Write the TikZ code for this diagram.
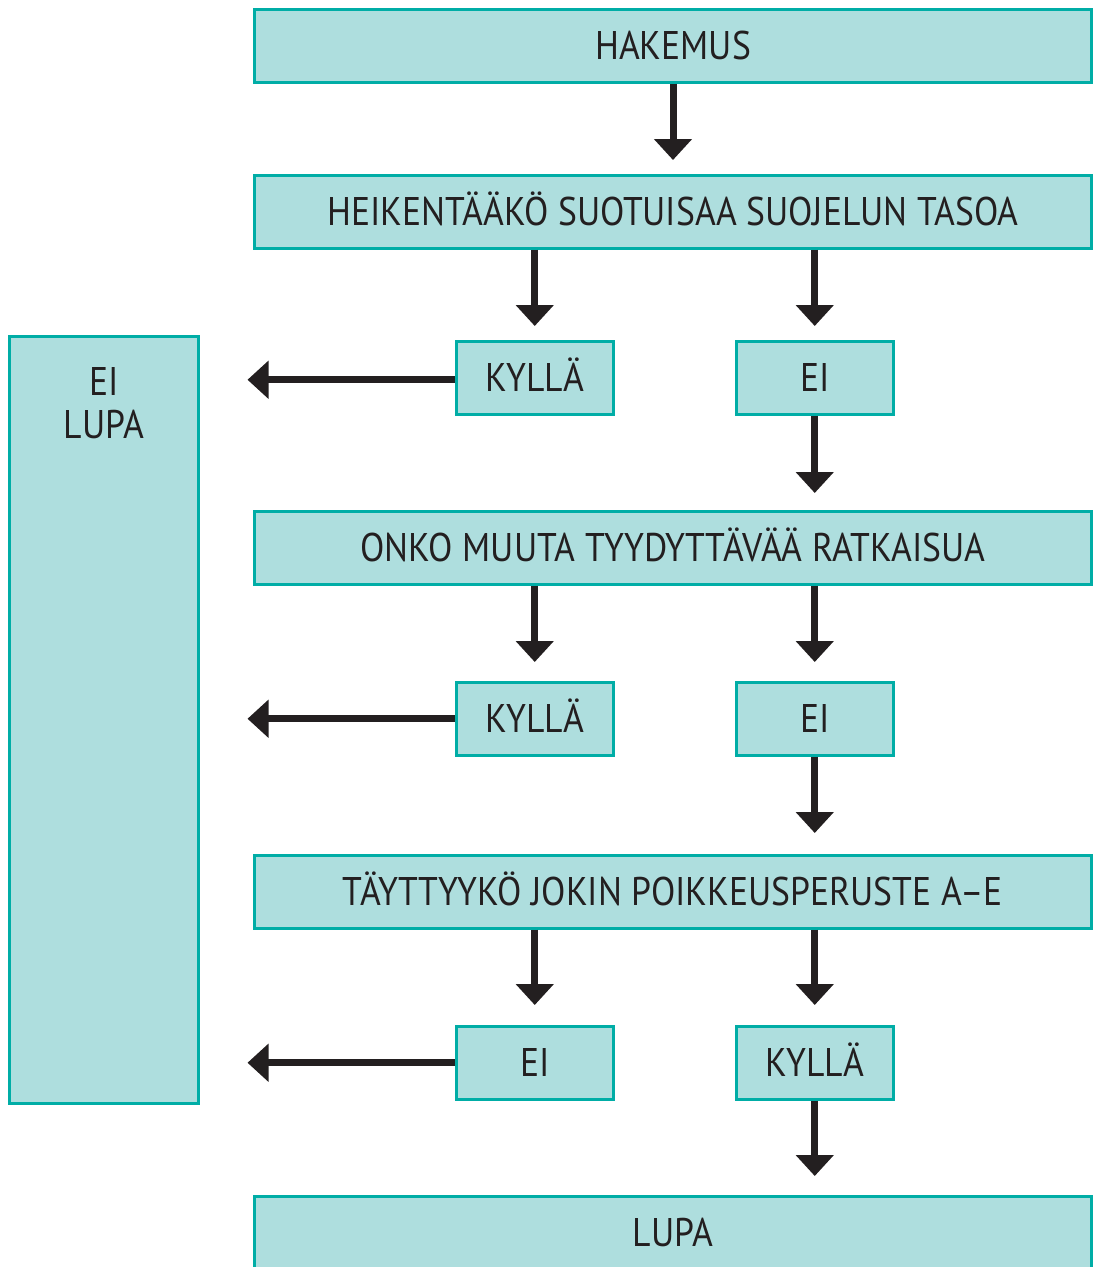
\documentclass[tikz,border=0pt]{standalone}
\usepackage{fontspec}
\setmainfont{PT Sans}[FakeStretch=0.89]
\usetikzlibrary{arrows.meta,calc}
\definecolor{boxfill}{HTML}{AEDEDE}
\definecolor{boxline}{HTML}{00ADA6}
\definecolor{ink}{HTML}{231F20}
\tikzset{
  box/.style={draw=boxline, fill=boxfill, line width=3pt, inner sep=0pt,
    text=ink, font=\fontsize{40}{44}\selectfont, text height=28pt, text depth=0pt},
  wide/.style={box, minimum width=837pt, minimum height=72.5pt},
  small/.style={box, minimum width=156.5pt, minimum height=72.5pt},
  arr/.style={draw=ink, line width=7pt, -{Triangle[width=37pt,length=21pt]}}
}
\begin{document}
\begin{tikzpicture}[x=1pt,y=-1pt]
\useasboundingbox (0,0) rectangle (1093,1267);
\node[wide] (hak) at (673,45.75) {HAKEMUS};
\node[wide] (hei) at (673,211.75) {HEIKENTÄÄKÖ SUOTUISAA SUOJELUN TASOA};
\node[small] (k1) at (534.75,377.75) {KYLLÄ};
\node[small] (e1) at (814.75,377.75) {EI};
\node[wide] (onk) at (673,547.75) {ONKO MUUTA TYYDYTTÄVÄÄ RATKAISUA};
\node[small] (k2) at (534.75,718.75) {KYLLÄ};
\node[small] (e2) at (814.75,718.75) {EI};
\node[wide] (tay) at (673,891.75) {TÄYTTYYKÖ JOKIN POIKKEUSPERUSTE A–E};
\node[small] (e3) at (534.75,1062.75) {EI};
\node[small] (k3) at (814.75,1062.75) {KYLLÄ};
\node[wide] (lupa) at (673,1232.75) {LUPA};
\node[box, minimum width=188.5pt, minimum height=766.5pt] (eil) at (103.75,719.75) {};
\node[text=ink, font=\fontsize{40}{43}\selectfont, align=center, inner sep=0pt, anchor=north] (eiltext) at ($(eil.north)+(0,32)$) {EI\\LUPA};
% vertical arrows
\draw[arr, shorten >=14pt] (hak.south) -- (hei.north);
\draw[arr, shorten >=14pt] (hei.south -| k1) -- (k1.north);
\draw[arr, shorten >=14pt] (hei.south -| e1) -- (e1.north);
\draw[arr, shorten >=17pt] (e1.south) -- (onk.north -| e1);
\draw[arr, shorten >=19pt] (onk.south -| k2) -- (k2.north);
\draw[arr, shorten >=19pt] (onk.south -| e2) -- (e2.north);
\draw[arr, shorten >=21pt] (e2.south) -- (tay.north -| e2);
\draw[arr, shorten >=20pt] (tay.south -| e3) -- (e3.north);
\draw[arr, shorten >=20pt] (tay.south -| k3) -- (k3.north);
\draw[arr, shorten >=19pt] (k3.south) -- (lupa.north -| k3);
% horizontal arrows
\draw[arr, shorten >=48pt] ($(k1.west)+(0,2)$) -- ($(k1.west -| eil.east)+(0,2)$);
\draw[arr, shorten >=48pt] (k2.west) -- (k2.west -| eil.east);
\draw[arr, shorten >=48pt] (e3.west) -- (e3.west -| eil.east);
\end{tikzpicture}
\end{document}
